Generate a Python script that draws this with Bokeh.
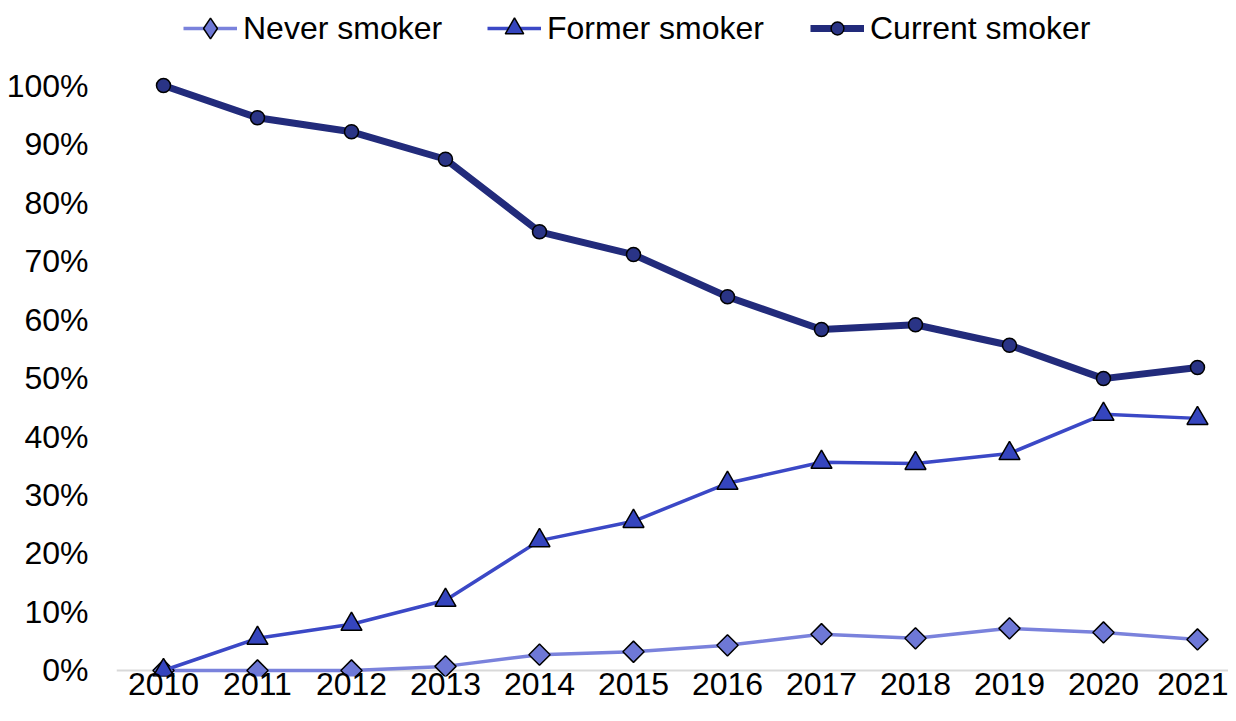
import math
from bokeh.plotting import figure
from bokeh.models import (ColumnDataSource, Legend, LegendItem, FixedTicker, Span,
                          Range1d, CustomJSTickFormatter)
from bokeh.embed import file_html
from bokeh.resources import INLINE

years = [2010, 2011, 2012, 2013, 2014, 2015, 2016, 2017, 2018, 2019, 2020, 2021]
never_smoker = [0.0, 0.0, 0.0, 0.7, 2.7, 3.2, 4.3, 6.2, 5.5, 7.2, 6.5, 5.3]
former_smoker = [0.0, 5.5, 7.9, 12.0, 22.2, 25.5, 32.0, 35.6, 35.4, 37.1, 43.8, 43.1]
current_smoker = [100.0, 94.5, 92.1, 87.4, 75.0, 71.1, 63.9, 58.3, 59.1, 55.6, 49.9, 51.8]
y_ticks = [0, 10, 20, 30, 40, 50, 60, 70, 80, 90, 100]
series_labels = ["Never smoker", "Former smoker", "Current smoker"]

FONT = "Liberation Sans"
FS = "32px"

W, H = 1228, 713
p = figure(width=W, height=H, output_backend="svg", toolbar_location=None,
           x_range=Range1d(2009.5, 2021.33), y_range=Range1d(-1.03, 114.2),
           min_border_left=116, min_border_right=0, min_border_top=2, min_border_bottom=37)
p.outline_line_color = None
p.background_fill_color = "white"
p.border_fill_color = "white"
p.xgrid.visible = False
p.ygrid.visible = False

p.yaxis.ticker = FixedTicker(ticks=y_ticks)
p.yaxis.formatter = CustomJSTickFormatter(code="return tick.toFixed(0) + '%';")
p.yaxis.axis_line_color = None
p.yaxis.major_tick_line_color = None
p.yaxis.minor_tick_line_color = None
p.yaxis.major_tick_out = 0
p.yaxis.major_tick_in = 0
p.yaxis.major_label_standoff = 28
p.yaxis.major_label_text_font = FONT
p.yaxis.major_label_text_font_size = FS
p.yaxis.major_label_text_color = "black"

p.xaxis.ticker = FixedTicker(ticks=years)
p.xaxis.axis_line_color = None
p.xaxis.major_tick_line_color = None
p.xaxis.minor_tick_line_color = None
p.xaxis.major_tick_out = 0
p.xaxis.major_tick_in = 0
p.xaxis.major_label_standoff = -4
p.xaxis.major_label_text_font = FONT
p.xaxis.major_label_text_font_size = FS
p.xaxis.major_label_text_color = "black"

p.add_layout(Span(location=0, dimension="width", line_color="#d9d9d9", line_width=2, level="underlay"))

src = ColumnDataSource(dict(x=years, never=never_smoker, former=former_smoker, current=current_smoker))
# first point of the never-smoker series, used only to give the legend a diamond glyph
src_first = ColumnDataSource(dict(x=years[:1], never=never_smoker[:1]))

C_NEVER_LINE, C_NEVER_FILL = "#7A82DC", "#6E78D6"
C_FORMER_LINE, C_FORMER_FILL = "#3B48C6", "#3545BE"
C_CURR_LINE, C_CURR_FILL = "#222B7B", "#2A3486"

l1 = p.line("x", "never", source=src, line_color=C_NEVER_LINE, line_width=3.5)
d1 = p.scatter("x", "never", source=src_first, marker="diamond", size=8,
               fill_color=C_NEVER_FILL, line_color="black", line_width=1.5)
m1 = p.scatter("x", "never", source=src, marker="square", angle=math.pi / 4, size=15,
               fill_color=C_NEVER_FILL, line_color="black", line_width=1.5)
l2 = p.line("x", "former", source=src, line_color=C_FORMER_LINE, line_width=3.5)
m2 = p.scatter("x", "former", source=src, marker="triangle", size=21,
               fill_color=C_FORMER_FILL, line_color="black", line_width=1.5)
l3 = p.line("x", "current", source=src, line_color=C_CURR_LINE, line_width=7)
m3 = p.scatter("x", "current", source=src, marker="circle", size=14,
               fill_color=C_CURR_FILL, line_color="black", line_width=1.5)


def make_legend(label, renderers, glyph_h, vx):
    h = max(glyph_h, 38)
    lg = Legend(items=[LegendItem(label=label, renderers=renderers)],
                orientation="horizontal", location=(vx, 648 - h / 2))
    lg.label_text_font = FONT
    lg.label_text_font_size = FS
    lg.label_text_color = "black"
    lg.glyph_width = 54
    lg.glyph_height = glyph_h
    lg.label_height = 38
    lg.label_standoff = 6
    lg.padding = 0
    lg.margin = 0
    lg.border_line_color = None
    lg.background_fill_alpha = 0
    p.add_layout(lg)


make_legend(series_labels[0], [l1, d1], 52, 67)
make_legend(series_labels[1], [l2, m2], 46, 371)
make_legend(series_labels[2], [l3, m3], 32, 694)

open("out.html", "w").write(file_html(p, INLINE))
